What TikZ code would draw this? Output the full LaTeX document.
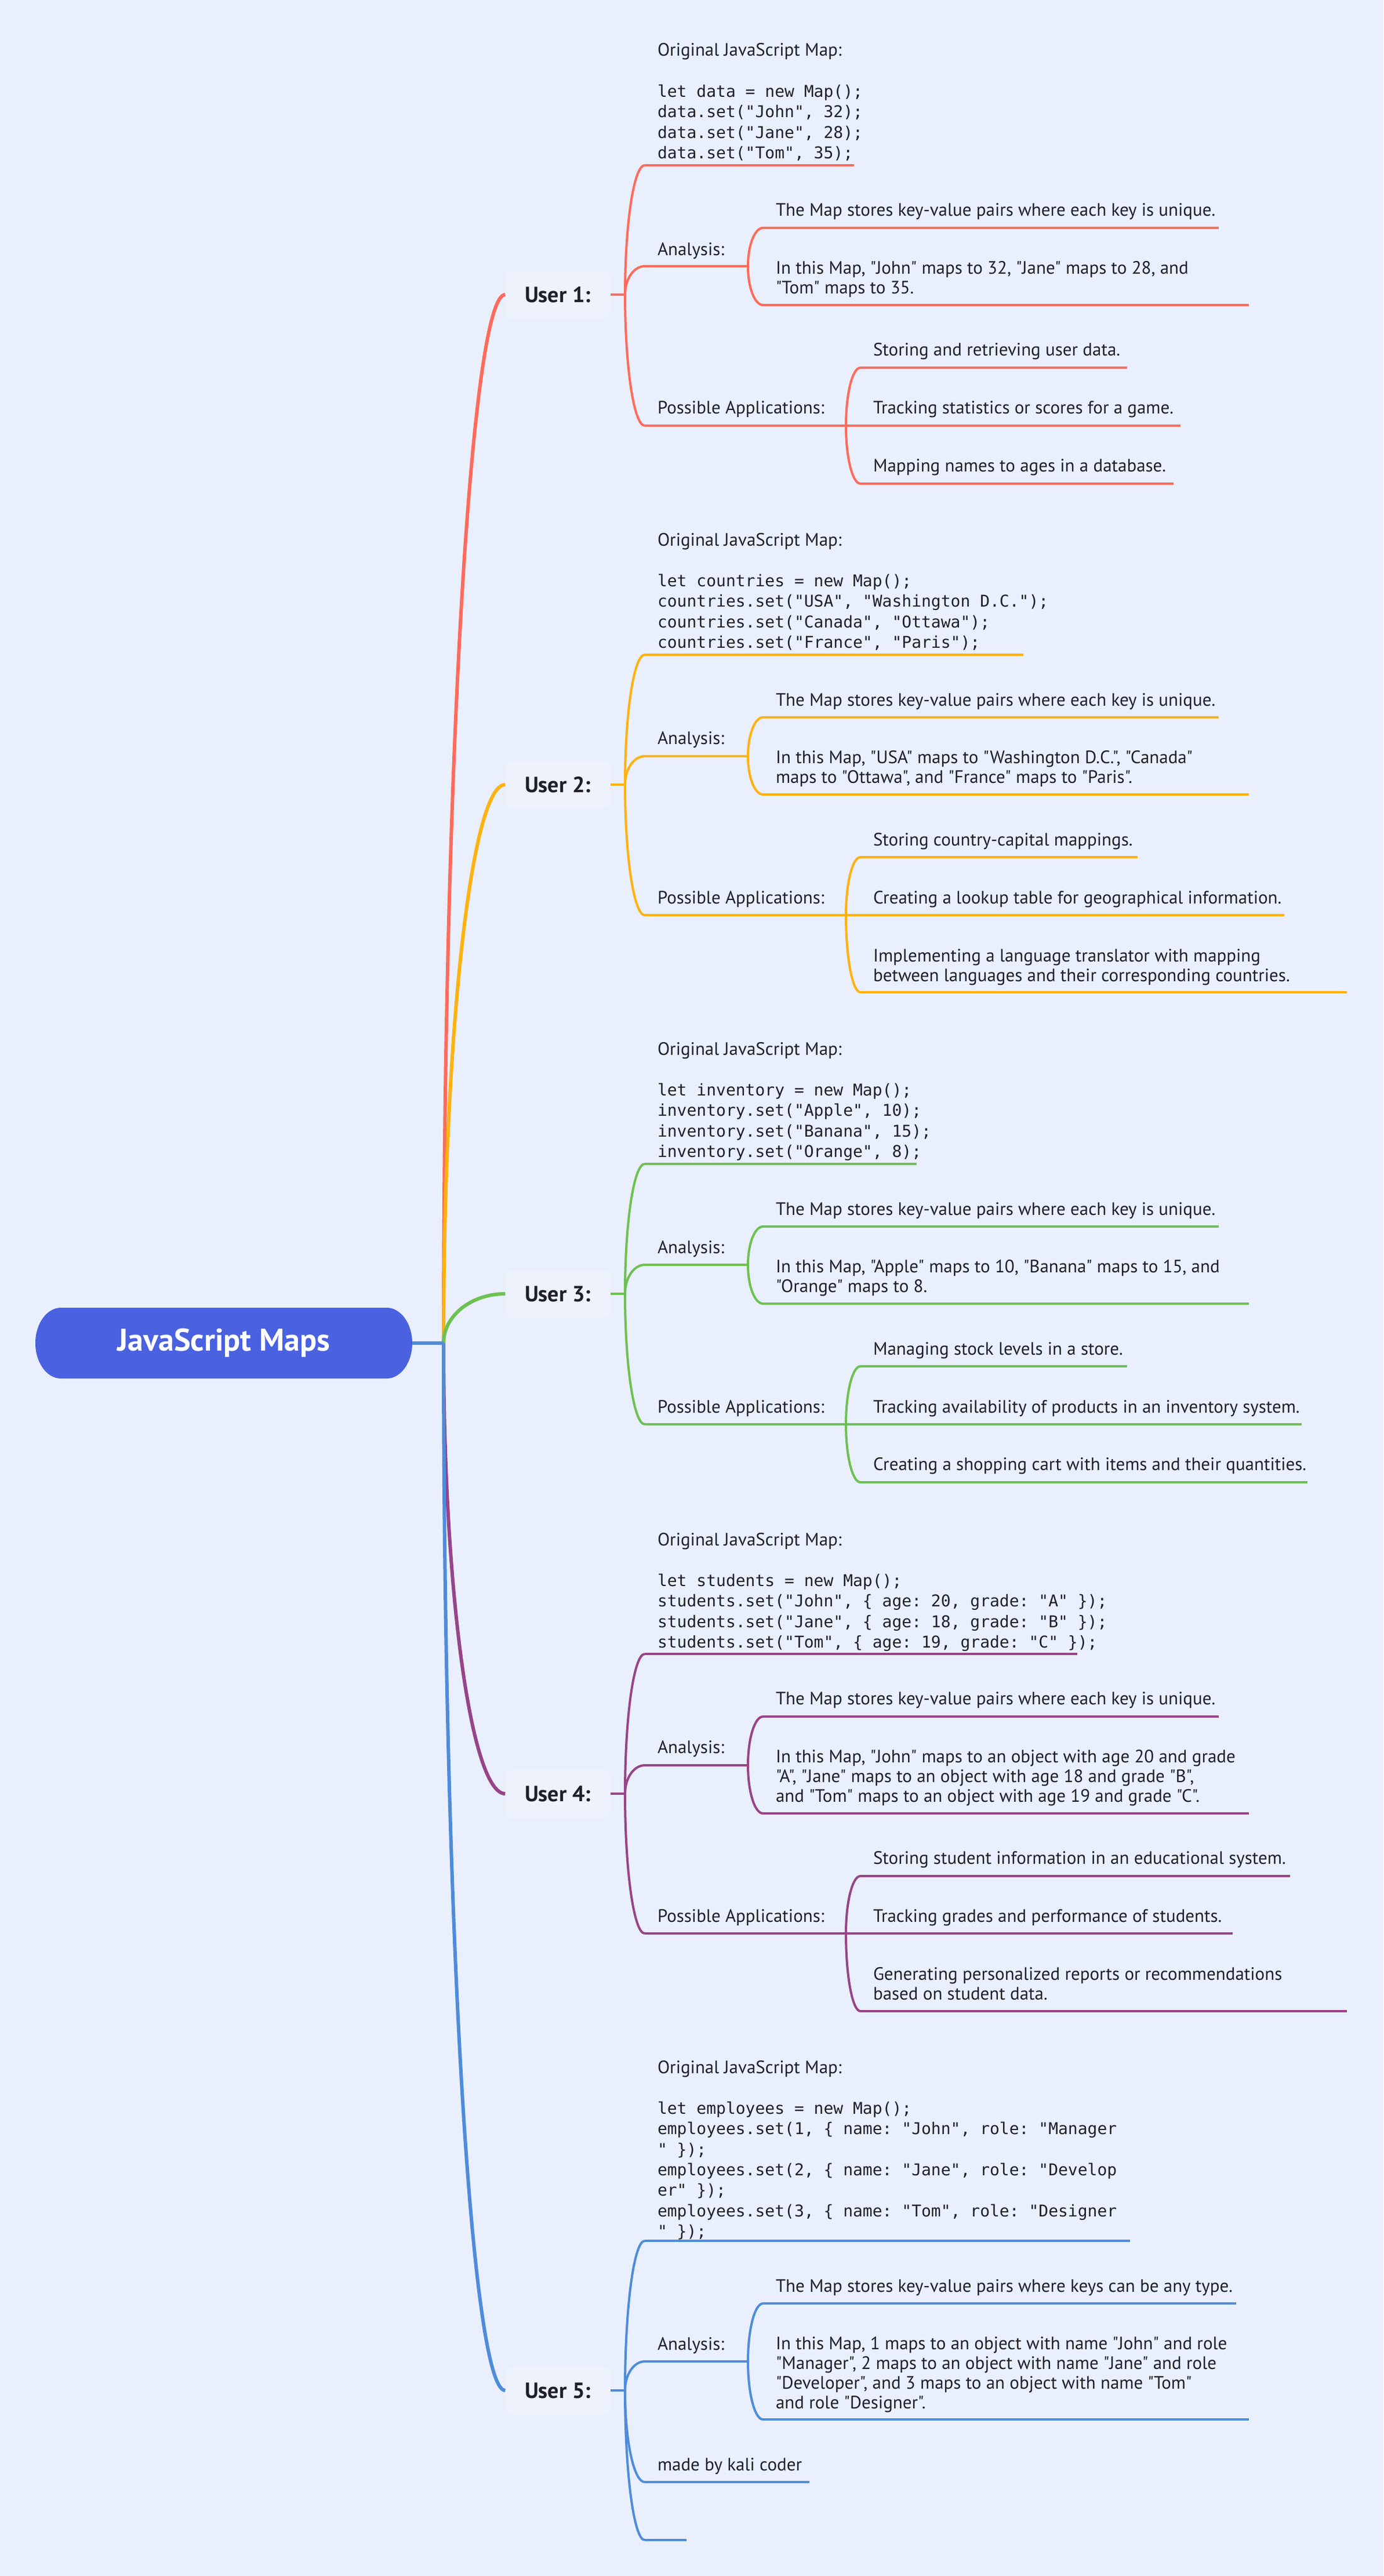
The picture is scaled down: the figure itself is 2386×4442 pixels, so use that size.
\documentclass[tikz,border=0pt]{standalone}
\usepackage{fontspec}
\setmainfont{PT Sans}[Ligatures=TeXOff]
\setmonofont{DejaVu Sans Mono}
\usetikzlibrary{calc}
\definecolor{bg}{HTML}{E9EFFC}
\definecolor{lab}{HTML}{EDF2FD}
\definecolor{ink}{HTML}{1F1F2B}
\definecolor{rootc}{HTML}{4A61E0}
\definecolor{c1}{HTML}{FF6B5B}
\definecolor{c2}{HTML}{FFB20F}
\definecolor{c3}{HTML}{6DC152}
\definecolor{c4}{HTML}{984488}
\definecolor{c5}{HTML}{4E8CDA}
\newcommand\tb[1]{\parbox[t]{1400pt}{\raggedright\frenchspacing #1}}
\newcommand\ebr[3]{\draw[#1] let \p1=(#2), \p2=(#3) in (#2) .. controls (\x1,{\y1+0.552*(\y2-\y1)}) and ({\x2-0.552*(\x2-\x1)},\y2) .. (#3);}
\newcommand\mmleaf[8]{%
  \coordinate (#1s) at (#3,#5);
  \coordinate (#1e) at (#4,#5);
  \node[#8] (#1) at ({#3+22},#6) {\tb{#7}};
  \draw[sub=#2] (#1s) -- (#1e);}
\tikzset{
  txt/.style={inner sep=0pt, outer sep=0pt, text=ink, anchor=base west, font=\fontsize{31}{34}\selectfont},
  codetxt/.style={inner sep=0pt, outer sep=0pt, text=ink, anchor=base west, font=\fontsize{28}{35.3}\selectfont},
  main/.style={draw=#1, line width=6pt},
  sub/.style={draw=#1, line width=4pt},
  ulabel/.style={rounded corners=12pt, fill=lab, minimum width=181pt, minimum height=83pt, inner sep=0pt, text=ink, font=\fontsize{38}{44}\selectfont\bfseries},
  rootn/.style={rectangle, minimum width=650pt, minimum height=122pt, inner sep=0pt, text=white, font=\fontsize{54}{60}\selectfont\bfseries},
}
\begin{document}
\begin{tikzpicture}[x=1pt,y=-1pt]
\useasboundingbox (0,0) rectangle (2386,4442);
\fill[bg] (0,0) rectangle (2386,4442);

% root
\fill[rootc] (105,2255) -- (667,2255) .. controls (691,2255) and (711,2282) .. (711,2316)
  .. controls (711,2350) and (691,2377) .. (667,2377) -- (105,2377)
  .. controls (81,2377) and (61,2350) .. (61,2316) .. controls (61,2282) and (81,2255) .. (105,2255) -- cycle;
\node[rootn] (root) at (386,2316) {JavaScript Maps};
\coordinate (J) at (765,2316);

% user labels
\node[ulabel] (u1) at (962,508) {User 1:};
\node[ulabel] (u2) at (962,1353) {User 2:};
\node[ulabel] (u3) at (962,2231) {User 3:};
\node[ulabel] (u4) at (962,3093) {User 4:};
\node[ulabel] (u5) at (962,4122) {User 5:};
\coordinate (u1j) at (1078,508);
\coordinate (u2j) at (1078,1353);
\coordinate (u3j) at (1078,2231);
\coordinate (u4j) at (1078,3093);
\coordinate (u5j) at (1078,4122);

% main branches
\ebr{main=c1}{J}{u1.west}
\ebr{main=c2}{J}{u2.west}
\ebr{main=c3}{J}{u3.west}
\ebr{main=c4}{J}{u4.west}
\ebr{main=c5}{J}{u5.west}
\draw[main=c5] (root.east) -- (J);
\foreach \i in {1,...,5} {\draw[sub=c\i] (u\i.east) -- (u\i j);}

%%%%%%%%%%%%%%%% User 1
\mmleaf{O1}{c1}{1112}{1473}{285}{97}{\fontsize{31}{35.3}\selectfont Original JavaScript Map:\\[35.3pt]\fontsize{28}{35.3}\selectfont\ttfamily let data = new Map();\\data.set("John", 32);\\data.set("Jane", 28);\\data.set("Tom", 35);}{codetxt}
\mmleaf{A1}{c1}{1112}{1290}{459}{440}{Analysis:}{txt}
\mmleaf{A1a}{c1}{1316}{2102}{393}{372}{The Map stores key-value pairs where each key is unique.}{txt}
\mmleaf{A1b}{c1}{1316}{2154}{526}{472}{In this Map, "John" maps to 32, "Jane" maps to 28, and\\"Tom" maps to 35.}{txt}
\mmleaf{P1}{c1}{1112}{1459}{734}{713}{Possible Applications:}{txt}
\mmleaf{P1a}{c1}{1484}{1944}{634}{613}{Storing and retrieving user data.}{txt}
\mmleaf{P1b}{c1}{1484}{2036}{734}{713}{Tracking statistics or scores for a game.}{txt}
\mmleaf{P1c}{c1}{1484}{2024}{834}{813}{Mapping names to ages in a database.}{txt}
\ebr{sub=c1}{u1j}{O1s}
\ebr{sub=c1}{u1j}{A1s}
\ebr{sub=c1}{u1j}{P1s}
\ebr{sub=c1}{A1e}{A1as}
\ebr{sub=c1}{A1e}{A1bs}
\ebr{sub=c1}{P1e}{P1as}
\draw[sub=c1] (P1e) -- (P1bs);
\ebr{sub=c1}{P1e}{P1cs}

%%%%%%%%%%%%%%%% User 2
\mmleaf{O2}{c2}{1112}{1765}{1129}{941}{\fontsize{31}{35.3}\selectfont Original JavaScript Map:\\[35.3pt]\fontsize{28}{35.3}\selectfont\ttfamily let countries = new Map();\\countries.set("USA", "Washington D.C.");\\countries.set("Canada", "Ottawa");\\countries.set("France", "Paris");}{codetxt}
\mmleaf{A2}{c2}{1112}{1290}{1304}{1283}{Analysis:}{txt}
\mmleaf{A2a}{c2}{1316}{2102}{1237}{1217}{The Map stores key-value pairs where each key is unique.}{txt}
\mmleaf{A2b}{c2}{1316}{2154}{1370}{1316}{In this Map, "USA" maps to "Washington D.C.", "Canada"\\maps to "Ottawa", and "France" maps to "Paris".}{txt}
\mmleaf{P2}{c2}{1112}{1459}{1578}{1558}{Possible Applications:}{txt}
\mmleaf{P2a}{c2}{1484}{1962}{1478}{1458}{Storing country-capital mappings.}{txt}
\mmleaf{P2b}{c2}{1484}{2215}{1578}{1558}{Creating a lookup table for geographical information.}{txt}
\mmleaf{P2c}{c2}{1484}{2323}{1711}{1658}{Implementing a language translator with mapping\\between languages and their corresponding countries.}{txt}
\ebr{sub=c2}{u2j}{O2s}
\ebr{sub=c2}{u2j}{A2s}
\ebr{sub=c2}{u2j}{P2s}
\ebr{sub=c2}{A2e}{A2as}
\ebr{sub=c2}{A2e}{A2bs}
\ebr{sub=c2}{P2e}{P2as}
\draw[sub=c2] (P2e) -- (P2bs);
\ebr{sub=c2}{P2e}{P2cs}

%%%%%%%%%%%%%%%% User 3
\mmleaf{O3}{c3}{1112}{1581}{2007}{1819}{\fontsize{31}{35.3}\selectfont Original JavaScript Map:\\[35.3pt]\fontsize{28}{35.3}\selectfont\ttfamily let inventory = new Map();\\inventory.set("Apple", 10);\\inventory.set("Banana", 15);\\inventory.set("Orange", 8);}{codetxt}
\mmleaf{A3}{c3}{1112}{1290}{2181}{2161}{Analysis:}{txt}
\mmleaf{A3a}{c3}{1316}{2102}{2115}{2095}{The Map stores key-value pairs where each key is unique.}{txt}
\mmleaf{A3b}{c3}{1316}{2154}{2248}{2194}{In this Map, "Apple" maps to 10, "Banana" maps to 15, and\\"Orange" maps to 8.}{txt}
\mmleaf{P3}{c3}{1112}{1459}{2456}{2436}{Possible Applications:}{txt}
\mmleaf{P3a}{c3}{1484}{1944}{2356}{2336}{Managing stock levels in a store.}{txt}
\mmleaf{P3b}{c3}{1484}{2245}{2456}{2436}{Tracking availability of products in an inventory system.}{txt}
\mmleaf{P3c}{c3}{1484}{2255}{2556}{2535}{Creating a shopping cart with items and their quantities.}{txt}
\ebr{sub=c3}{u3j}{O3s}
\ebr{sub=c3}{u3j}{A3s}
\ebr{sub=c3}{u3j}{P3s}
\ebr{sub=c3}{A3e}{A3as}
\ebr{sub=c3}{A3e}{A3bs}
\ebr{sub=c3}{P3e}{P3as}
\draw[sub=c3] (P3e) -- (P3bs);
\ebr{sub=c3}{P3e}{P3cs}

%%%%%%%%%%%%%%%% User 4
\mmleaf{O4}{c4}{1112}{1858}{2852}{2665}{\fontsize{31}{35.3}\selectfont Original JavaScript Map:\\[35.3pt]\fontsize{28}{35.3}\selectfont\ttfamily let students = new Map();\\students.set("John", \{ age: 20, grade: "A" \});\\students.set("Jane", \{ age: 18, grade: "B" \});\\students.set("Tom", \{ age: 19, grade: "C" \});}{codetxt}
\mmleaf{A4}{c4}{1112}{1290}{3044}{3023}{Analysis:}{txt}
\mmleaf{A4a}{c4}{1316}{2102}{2960}{2939}{The Map stores key-value pairs where each key is unique.}{txt}
\mmleaf{A4b}{c4}{1316}{2154}{3127}{3039}{In this Map, "John" maps to an object with age 20 and grade\\"A", "Jane" maps to an object with age 18 and grade "B",\\and "Tom" maps to an object with age 19 and grade "C".}{txt}
\mmleaf{P4}{c4}{1112}{1459}{3334}{3314}{Possible Applications:}{txt}
\mmleaf{P4a}{c4}{1484}{2225}{3235}{3214}{Storing student information in an educational system.}{txt}
\mmleaf{P4b}{c4}{1484}{2126}{3334}{3314}{Tracking grades and performance of students.}{txt}
\mmleaf{P4c}{c4}{1484}{2323}{3468}{3414}{Generating personalized reports or recommendations\\based on student data.}{txt}
\ebr{sub=c4}{u4j}{O4s}
\ebr{sub=c4}{u4j}{A4s}
\ebr{sub=c4}{u4j}{P4s}
\ebr{sub=c4}{A4e}{A4as}
\ebr{sub=c4}{A4e}{A4bs}
\ebr{sub=c4}{P4e}{P4as}
\draw[sub=c4] (P4e) -- (P4bs);
\ebr{sub=c4}{P4e}{P4cs}

%%%%%%%%%%%%%%%% User 5
\mmleaf{O5}{c5}{1112}{1949}{3864}{3575}{\fontsize{31}{35.3}\selectfont Original JavaScript Map:\\[35.3pt]\fontsize{28}{35.3}\selectfont\ttfamily let employees = new Map();\\employees.set(1, \{ name: "John", role: "Manager\\" \});\\employees.set(2, \{ name: "Jane", role: "Develop\\er" \});\\employees.set(3, \{ name: "Tom", role: "Designer\\" \});}{codetxt}
\mmleaf{A5}{c5}{1112}{1290}{4072}{4052}{Analysis:}{txt}
\mmleaf{A5a}{c5}{1316}{2132}{3972}{3952}{The Map stores key-value pairs where keys can be any type.}{txt}
\mmleaf{A5b}{c5}{1316}{2154}{4172}{4051}{In this Map, 1 maps to an object with name "John" and role\\"Manager", 2 maps to an object with name "Jane" and role\\"Developer", and 3 maps to an object with name "Tom"\\and role "Designer".}{txt}
\mmleaf{M5}{c5}{1112}{1396}{4280}{4260}{made by kali coder}{txt}
\coordinate (E5s) at (1112,4380);
\coordinate (E5e) at (1184,4380);
\draw[sub=c5] (E5s) -- (E5e);
\ebr{sub=c5}{u5j}{O5s}
\ebr{sub=c5}{u5j}{A5s}
\ebr{sub=c5}{u5j}{M5s}
\ebr{sub=c5}{u5j}{E5s}
\ebr{sub=c5}{A5e}{A5as}
\ebr{sub=c5}{A5e}{A5bs}
\end{tikzpicture}
\end{document}
